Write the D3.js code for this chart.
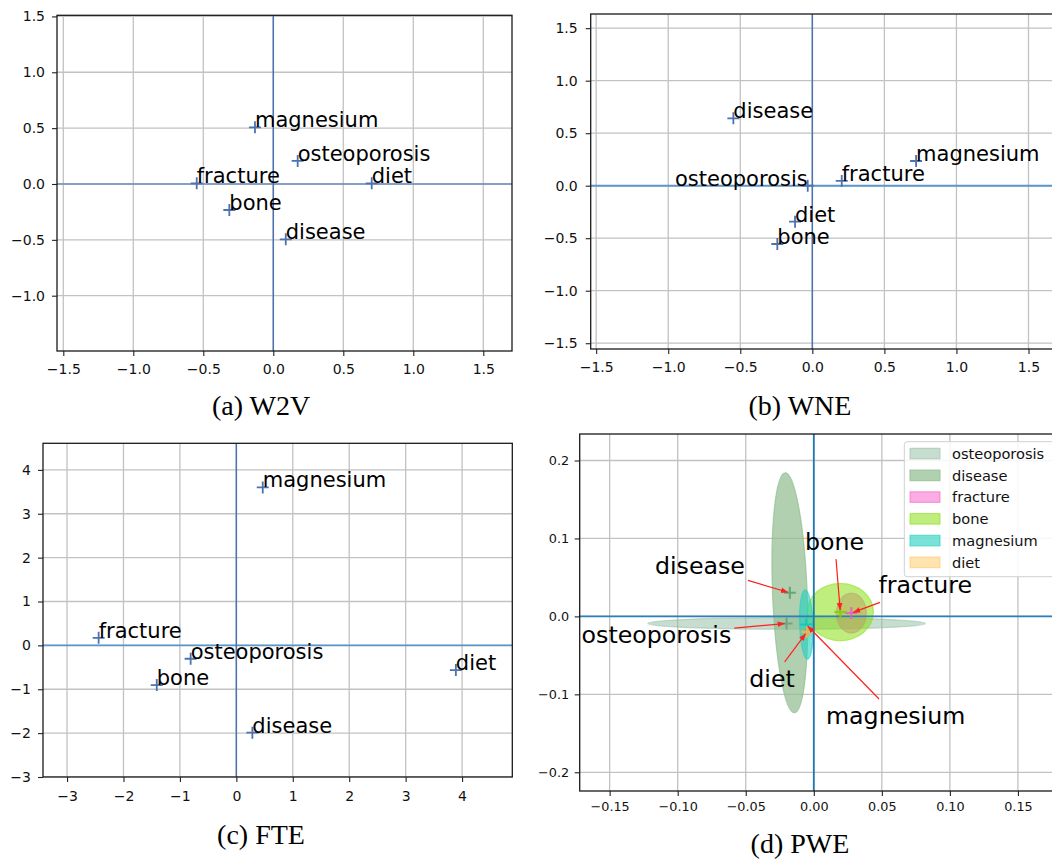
<!DOCTYPE html>
<html><head><meta charset="utf-8">
<script src="https://cdn.jsdelivr.net/npm/d3@7"></script>
<style>body{margin:0;background:#fff} svg{display:block}</style>
</head><body><svg id="c" width="1052" height="860"></svg>
<script>
// ---------------- data ----------------
const words = ["magnesium", "osteoporosis", "fracture", "diet", "bone", "disease"];

// (a) W2V
const w2vX = [-0.131, 0.174, -0.547, 0.703, -0.314, 0.089];
const w2vY = [0.507, 0.206, 0.006, 0.006, -0.233, -0.495];
// (b) WNE
const wneX = [0.720, -0.032, 0.204, -0.120, -0.243, -0.548];
const wneY = [0.235, 0.000, 0.045, -0.343, -0.555, 0.642];
const wneAnchor = ["start", "end", "start", "start", "start", "start"];
// (c) FTE
const fteX = [0.468, -0.810, -2.440, 3.890, -1.410, 0.284];
const fteY = [3.600, -0.305, 0.173, -0.563, -0.905, -1.990];

// (d) PWE (Gaussian embeddings: mean + ellipse semi-axes)
const pweWords = ["osteoporosis", "disease", "fracture", "bone", "magnesium", "diet"];
const pweX = [-0.0200, -0.0176, 0.0276, 0.0195, -0.0055, -0.0051];
const pweY = [-0.0090, 0.0303, 0.0042, 0.0055, -0.0105, -0.0201];
const pweSx = [0.1020, 0.0127, 0.0110, 0.0243, 0.0049, 0.0030];
const pweSy = [0.0075, 0.1540, 0.0256, 0.0368, 0.0445, 0.0060];
const pweAngle = [0, 2.2, 0, 0, 2, 0];
const pweLabelX = [-0.1706, -0.1167, 0.0475, -0.0064, 0.0090, -0.0474];
const pweLabelY = [-0.0342, 0.0542, 0.0295, 0.0850, -0.1380, -0.0903];

// ticks
const ticksA_X = [-1.5, -1.0, -0.5, 0.0, 0.5, 1.0, 1.5];
const ticksA_Y = [-1.0, -0.5, 0.0, 0.5, 1.0, 1.5];
const ticksB_X = [-1.5, -1.0, -0.5, 0.0, 0.5, 1.0, 1.5];
const ticksB_Y = [-1.5, -1.0, -0.5, 0.0, 0.5, 1.0, 1.5];
const ticksC_X = [-3, -2, -1, 0, 1, 2, 3, 4];
const ticksC_Y = [-3, -2, -1, 0, 1, 2, 3, 4];
const ticksD_X = [-0.15, -0.10, -0.05, 0.00, 0.05, 0.10, 0.15];
const ticksD_Y = [-0.2, -0.1, 0.0, 0.1, 0.2];

const captions = ["(a) W2V", "(b) WNE", "(c) FTE", "(d) PWE"];

// ---------------- drawing ----------------
const svg = d3.select("#c");
const defs = svg.append("defs");
const SANS = "DejaVu Sans, sans-serif";
let clipN = 0;

function panel(p) {
  const x = d3.scaleLinear().domain(p.xDomain).range([p.left, p.right]);
  const y = d3.scaleLinear().domain(p.yDomain).range([p.bottom, p.top]);
  const g = svg.append("g");
  const id = "clip" + (clipN++);
  defs.append("clipPath").attr("id", id).append("rect")
    .attr("x", p.left).attr("y", p.top).attr("width", p.right - p.left).attr("height", p.bottom - p.top);
  const plot = g.append("g").attr("clip-path", `url(#${id})`);
  // grid
  plot.selectAll(".gx").data(p.xTicks).join("line")
    .attr("x1", d => x(d)).attr("x2", d => x(d)).attr("y1", p.top).attr("y2", p.bottom)
    .attr("stroke", "#c2c2c2").attr("stroke-width", 1.3);
  plot.selectAll(".gy").data(p.yTicks).join("line")
    .attr("y1", d => y(d)).attr("y2", d => y(d)).attr("x1", p.left).attr("x2", p.right)
    .attr("stroke", "#c2c2c2").attr("stroke-width", 1.3);
  // axes
  const ax = g.append("g").attr("transform", `translate(0,${p.bottom})`)
    .call(d3.axisBottom(x).tickValues(p.xTicks).tickFormat(p.xFmt).tickSize(5).tickPadding(p.xPad));
  const ay = g.append("g").attr("transform", `translate(${p.left},0)`)
    .call(d3.axisLeft(y).tickValues(p.yTicks).tickFormat(p.yFmt).tickSize(5).tickPadding(p.yPad));
  [ax, ay].forEach(a => {
    a.select(".domain").remove();
    a.selectAll("line").attr("stroke", "#222").attr("stroke-width", 1.1);
    a.selectAll("text").attr("font-family", SANS).attr("font-size", p.tickFont).attr("fill", "#111");
  });
  return { x, y, g, plot };
}

function spines(P, p) {
  P.g.append("rect").attr("x", p.left).attr("y", p.top)
    .attr("width", p.right - p.left).attr("height", p.bottom - p.top)
    .attr("fill", "none").attr("stroke", "#1a1a1a").attr("stroke-width", 1.3);
}

function zeroLines(P, p, vColor, hColor, vw, hw) {
  P.plot.append("line").attr("x1", p.left).attr("x2", p.right).attr("y1", P.y(0)).attr("y2", P.y(0))
    .attr("stroke", hColor).attr("stroke-width", hw);
  P.plot.append("line").attr("x1", P.x(0)).attr("x2", P.x(0)).attr("y1", p.top).attr("y2", p.bottom)
    .attr("stroke", vColor).attr("stroke-width", vw);
}

function plus(sel, cx, cy, color, s, w, op) {
  sel.append("path").attr("d", `M${cx - s},${cy}H${cx + s}M${cx},${cy - s}V${cy + s}`)
    .attr("stroke", color).attr("stroke-width", w).attr("fill", "none").attr("opacity", op == null ? 1 : op);
}

function scatterPanel(p, xs, ys, anchors) {
  const P = panel(p);
  zeroLines(P, p, "#4c72b0", p.hColor, 1.5, p.hWidth);
  words.forEach((w, i) => {
    plus(P.g, P.x(xs[i]), P.y(ys[i]), "#4c72b0", 6, 1.8);
  });
  P.g.selectAll(".lbl").data(words).join("text")
    .attr("x", (d, i) => P.x(xs[i])).attr("y", (d, i) => P.y(ys[i]))
    .attr("text-anchor", (d, i) => anchors ? anchors[i] : "start")
    .attr("font-family", SANS).attr("font-size", 21).attr("fill", "#000")
    .text(d => d);
  spines(P, p);
  return P;
}

const fmt1 = d3.format(".1f"), fmt0 = d3.format("d"), fmt2 = d3.format(".2f");

const pa = { left: 57, right: 512, top: 15.3, bottom: 351, xDomain: [-1.545, 1.705], yDomain: [-1.495, 1.51],
  xTicks: ticksA_X, yTicks: ticksA_Y, xFmt: fmt1, yFmt: fmt1, xPad: 8, yPad: 7, tickFont: 14,
  hColor: "#6a8fc0", hWidth: 1.7 };
scatterPanel(pa, w2vX, w2vY);

const pb = { left: 590.7, right: 1054, top: 14, bottom: 349, xDomain: [-1.538, 1.677], yDomain: [-1.555, 1.635],
  xTicks: ticksB_X, yTicks: ticksB_Y, xFmt: fmt1, yFmt: fmt1, xPad: 8, yPad: 8, tickFont: 14,
  hColor: "#5b95c9", hWidth: 1.9 };
scatterPanel(pb, wneX, wneY, wneAnchor);

const pc = { left: 43, right: 512.3, top: 443.3, bottom: 777, xDomain: [-3.426, 4.89], yDomain: [-3.0, 4.606],
  xTicks: ticksC_X, yTicks: ticksC_Y, xFmt: fmt0, yFmt: fmt0, xPad: 9, yPad: 7, tickFont: 14,
  hColor: "#5b95c9", hWidth: 1.9 };
scatterPanel(pc, fteX, fteY);

// (d) PWE
const pd = { left: 579.7, right: 1054, top: 434, bottom: 791, xDomain: [-0.172, 0.1765], yDomain: [-0.224, 0.234],
  xTicks: ticksD_X, yTicks: ticksD_Y, xFmt: fmt2, yFmt: fmt1, xPad: 6, yPad: 5.5, tickFont: 12.8 };
const PD = panel(pd);
const fillCol = ["#8fbc9f", "#8fbc8f", "#f55ac8", "#80dd00", "#1fd0c0", "#ffa500"];
const fillOp = [0.5, 0.7, 0.5, 0.5, 0.6, 0.3];
const markCol = ["#6f9f80", "#5f9f6c", "#e060c0", "#80d000", "#10c8c0", "#f0b060"];
const kx = Math.abs(PD.x(1) - PD.x(0)), ky = Math.abs(PD.y(1) - PD.y(0));
pweWords.forEach((w, i) => {
  PD.plot.append("ellipse")
    .attr("transform", `translate(${PD.x(pweX[i])},${PD.y(pweY[i])}) rotate(${-pweAngle[i]})`)
    .attr("rx", pweSx[i] * kx).attr("ry", pweSy[i] * ky)
    .attr("fill", fillCol[i]).attr("fill-opacity", fillOp[i])
    .attr("stroke", fillCol[i]).attr("stroke-opacity", fillOp[i]).attr("stroke-width", 1.2);
});
zeroLines(PD, pd, "#1f77b4", "#2c7fb8", 1.8, 1.9);
pweWords.forEach((w, i) => plus(PD.g, PD.x(pweX[i]), PD.y(pweY[i]), markCol[i], 6, 2, 0.9));

// annotations with arrows
defs.append("marker").attr("id", "ah").attr("viewBox", "0 -5 10 10").attr("refX", 10).attr("refY", 0)
  .attr("markerWidth", 7).attr("markerHeight", 7).attr("markerUnits", "userSpaceOnUse").attr("orient", "auto")
  .append("path").attr("d", "M0,-4L10,0L0,4Z").attr("fill", "#ff2020");
pweWords.forEach((w, i) => {
  const t = PD.g.append("text").attr("x", PD.x(pweLabelX[i])).attr("y", PD.y(pweLabelY[i]))
    .attr("font-family", SANS).attr("font-size", 23.7).attr("fill", "#000").text(w);
  const b = t.node().getBBox();
  const pad = 3;
  const cx = b.x + b.width / 2, cy = b.y + b.height / 2;
  const tx = PD.x(pweX[i]), ty = PD.y(pweY[i]);
  const dx = tx - cx, dy = ty - cy;
  const hw = b.width / 2 + pad, hh = b.height / 2 + pad;
  const s = Math.min(Math.abs(hw / dx) || Infinity, Math.abs(hh / dy) || Infinity);
  const sx = cx + dx * s, sy = cy + dy * s;
  const L = Math.hypot(tx - sx, ty - sy);
  const ex = tx - (tx - sx) / L * 2, ey = ty - (ty - sy) / L * 2;
  PD.g.append("line").attr("x1", sx).attr("y1", sy).attr("x2", ex).attr("y2", ey)
    .attr("stroke", "#ff2020").attr("stroke-width", 1.2).attr("marker-end", "url(#ah)");
});
spines(PD, pd);

// legend
const lg = PD.g.append("g");
lg.append("rect").attr("x", 904.3).attr("y", 441.7).attr("width", 152).attr("height", 135).attr("rx", 3)
  .attr("fill", "#fff").attr("fill-opacity", 0.85).attr("stroke", "#d0d0d0").attr("stroke-width", 1);
pweWords.forEach((w, i) => {
  const cy = 453.6 + i * 21.75;
  lg.append("rect").attr("x", 910).attr("y", cy - 5.3).attr("width", 30).attr("height", 10.6)
    .attr("fill", fillCol[i]).attr("fill-opacity", fillOp[i])
    .attr("stroke", fillCol[i]).attr("stroke-opacity", fillOp[i]).attr("stroke-width", 1.2);
  lg.append("text").attr("x", 952).attr("y", cy).attr("dy", "0.36em")
    .attr("font-family", SANS).attr("font-size", 14.6).attr("fill", "#111").text(w);
});

// captions
const capPos = [[261, 415], [800, 415], [261, 844], [800, 853]];
captions.forEach((c, i) => {
  svg.append("text").attr("x", capPos[i][0]).attr("y", capPos[i][1]).attr("text-anchor", "middle")
    .attr("font-family", "Liberation Serif, Times New Roman, serif").attr("font-size", 28).attr("fill", "#000").text(c);
});
</script>
</body></html>
